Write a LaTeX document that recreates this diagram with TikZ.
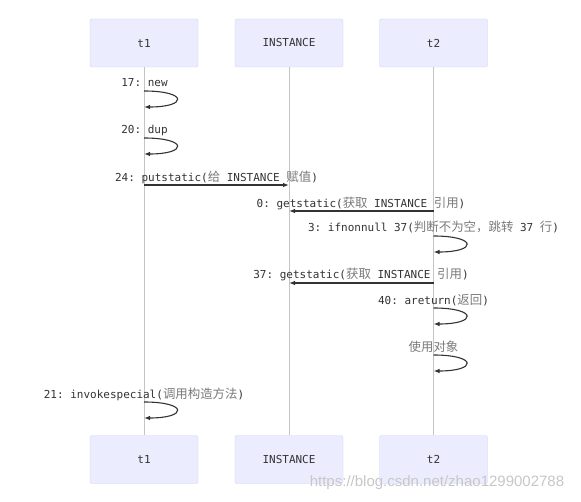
\documentclass[tikz,border=0pt]{standalone}
\usepackage{fontspec}
\usepackage{xcolor}
\usepackage{tikz}
\usetikzlibrary{arrows.meta}
\setmonofont{DejaVu Sans Mono}
\newfontfamily\cjk[Scale=1.13]{Noto Sans CJK SC}
\newfontfamily\marksans{Liberation Sans}
\definecolor{boxfill}{HTML}{ECECFF}
\definecolor{boxline}{HTML}{D2D2F5}
\definecolor{lifegray}{HTML}{C4C4C4}
\definecolor{ink}{HTML}{333333}
\definecolor{zhgray}{HTML}{7A7A7A}
\newcommand\zhtxt[1]{{\cjk\color{zhgray}#1}}

\begin{document}
\begin{tikzpicture}[x=1pt,y=-1pt,>={Latex[length=6pt,width=4.5pt]},
  actor/.style={draw=boxline,fill=boxfill,rounded corners=2pt,minimum width=108pt,minimum height=48pt,inner sep=0pt,text=ink,font=\ttfamily\fontsize{11}{13}\selectfont},
  lifeline/.style={draw=lifegray,line width=0.8pt},
  msg/.style={->,draw=ink,line width=1.1pt},
  lbl/.style={inner sep=0pt,text=ink,font=\ttfamily\fontsize{11}{13}\selectfont}]
\useasboundingbox (0,0) rectangle (581,502);
\fill[white] (0,0) rectangle (581,502);
% actors, top and bottom
\node[actor] (t1top) at (144,43) {t1};
\node[actor] (insttop) at (289,43) {INSTANCE};
\node[actor] (t2top) at (433.5,43) {t2};
\node[actor] (t1bot) at (144,459.5) {t1};
\node[actor] (instbot) at (289,459.5) {INSTANCE};
\node[actor] (t2bot) at (433.5,459.5) {t2};
\draw[lifeline] (t1top) -- (t1bot);
\draw[lifeline] (insttop) -- (instbot);
\draw[lifeline] (t2top) -- (t2bot);
% message ends
\coordinate (a17) at (144,91);  \coordinate (b17) at (144,107);
\coordinate (a20) at (144,138); \coordinate (b20) at (144,154);
\coordinate (a24) at (144,185); \coordinate (b24) at (289,185);
\coordinate (a0) at (433.5,211); \coordinate (b0) at (289,211);
\coordinate (a3) at (433.5,236); \coordinate (b3) at (433.5,252);
\coordinate (a37) at (433.5,283); \coordinate (b37) at (289,283);
\coordinate (a40) at (433.5,308); \coordinate (b40) at (433.5,324);
\coordinate (ause) at (433.5,355); \coordinate (buse) at (433.5,371);
\coordinate (a21) at (144,402); \coordinate (b21) at (144,418);
% labels
\node[lbl] (l17) at (144.5,83) {17: new};
\node[lbl] (l20) at (144.5,130) {20: dup};
\node[lbl] (l24) at (216.5,177) {24: putstatic(\zhtxt{给} INSTANCE \zhtxt{赋值})};
\node[lbl] (l0) at (361,203) {0: getstatic(\zhtxt{获取} INSTANCE \zhtxt{引用})};
\node[lbl] (l3) at (433.5,227) {3: ifnonnull 37(\zhtxt{判断不为空，跳转} 37 \zhtxt{行})};
\node[lbl] (l37) at (361,274) {37: getstatic(\zhtxt{获取} INSTANCE \zhtxt{引用})};
\node[lbl] (l40) at (433.5,300) {40: areturn(\zhtxt{返回})};
\node[lbl] (luse) at (433.5,347) {\zhtxt{使用对象}};
\node[lbl] (l21) at (144,394) {21: invokespecial(\zhtxt{调用构造方法})};
% arrows
\draw[msg] (a17) .. controls +(44,0) and +(44,0) .. (b17);
\draw[msg] (a20) .. controls +(44,0) and +(44,0) .. (b20);
\draw[msg] (a24) -- (b24);
\draw[msg] (a0) -- (b0);
\draw[msg] (a3) .. controls +(44,0) and +(44,0) .. (b3);
\draw[msg] (a37) -- (b37);
\draw[msg] (a40) .. controls +(44,0) and +(44,0) .. (b40);
\draw[msg] (ause) .. controls +(44,0) and +(44,0) .. (buse);
\draw[msg] (a21) .. controls +(44,0) and +(44,0) .. (b21);
% watermark
\node[inner sep=0pt,text=black!22,font=\marksans\fontsize{15}{17}\selectfont] (mark) at (437,483) {https://blog.csdn.net/zhao1299002788};
\end{tikzpicture}
\end{document}
